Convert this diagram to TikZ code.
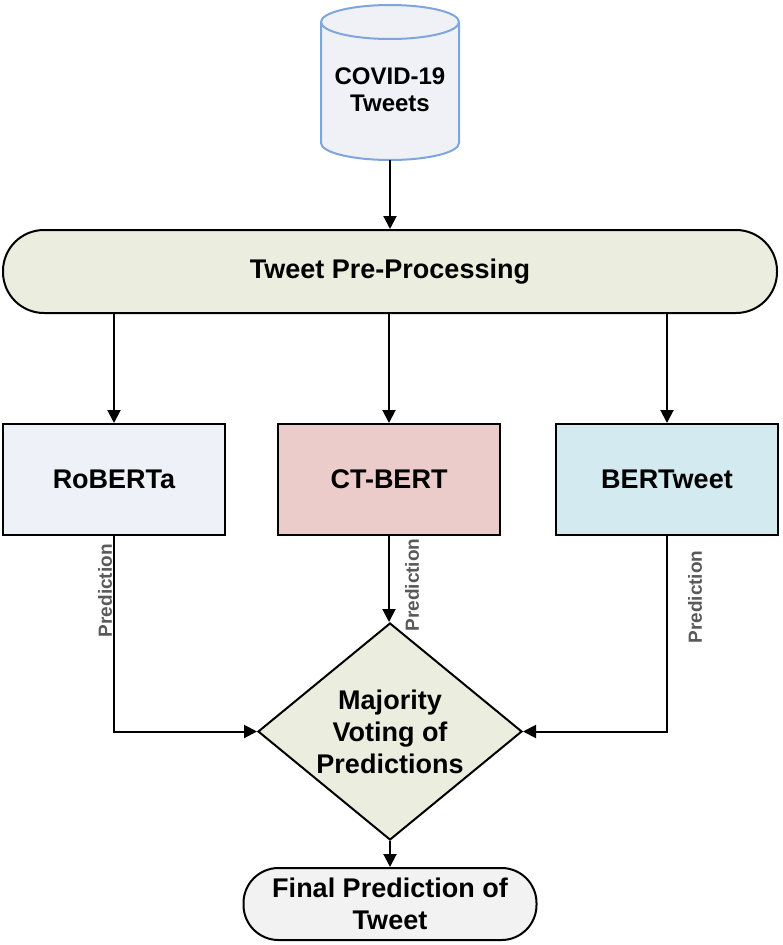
\documentclass[tikz,border=0pt]{standalone}
\usepackage{fontspec}
\setmainfont{Liberation Sans}
\usetikzlibrary{arrows.meta, shapes.geometric}

\definecolor{dbblue}{HTML}{7EA6DC}
\definecolor{dbfill}{HTML}{F0F0F7}
\definecolor{stepgreen}{HTML}{EBEEDE}
\definecolor{robfill}{HTML}{EEF1F7}
\definecolor{ctfill}{HTML}{ECCCCB}
\definecolor{btfill}{HTML}{D3EAF0}
\definecolor{finalfill}{HTML}{F2F2F2}
\definecolor{labelgray}{HTML}{595959}

\begin{document}
\begin{tikzpicture}[x=1pt, y=-1pt,
  bigtext/.style={font=\bfseries\fontsize{27}{32}\selectfont, align=center},
  model/.style={draw, line width=2pt, bigtext, minimum width=222pt, minimum height=111pt, inner sep=0pt},
  flow/.style={line width=2pt, -{Triangle[width=13pt,length=13pt]}},
  predlab/.style={font=\bfseries\fontsize{19}{22}\selectfont, text=labelgray, rotate=90, inner sep=1pt}]
\useasboundingbox (0,0) rectangle (782,945);
% Database of tweets
\filldraw[draw=dbblue, fill=dbfill, line width=2pt] (321,22) -- (321,143)
  arc[start angle=180, end angle=0, x radius=69, y radius=17] -- (459,22)
  arc[start angle=0, end angle=-180, x radius=69, y radius=17] -- cycle;
\draw[dbblue, line width=2pt] (321,22) arc[start angle=180, end angle=0, x radius=69, y radius=17];
\node[font=\bfseries\fontsize{24}{27}\selectfont, align=center] (tweets) at (390,90) {COVID-19\\Tweets};
\coordinate (dbbottom) at (390,160);
% Pre-processing step
\node[draw, line width=2pt, fill=stepgreen, rounded corners=41pt, minimum width=774pt, minimum height=83pt, bigtext] (prep) at (390,271.5) {Tweet Pre-Processing};
\draw[flow] (dbbottom) -- (prep.north);
% The three models
\node[model, fill=robfill] (rob) at (114,479.5) {RoBERTa};
\node[model, fill=ctfill] (ct) at (389,479.5) {CT-BERT};
\node[model, fill=btfill] (bt) at (667,479.5) {BERTweet};
\draw[flow] (prep.south -| rob.north) -- (rob.north);
\draw[flow] (prep.south -| ct.north) -- (ct.north);
\draw[flow] (prep.south -| bt.north) -- (bt.north);
% Voting diamond
\node[draw, diamond, aspect=1.2, line width=2pt, fill=stepgreen, minimum width=264pt, minimum height=217pt, inner sep=0pt, bigtext] (vote) at (390,731.5) {Majority\\Voting of\\Predictions};
% Predictions into the vote
\draw[flow] (rob.south) |- node[predlab, pos=0.14, anchor=south] {Prediction} (vote.west);
\draw[flow] (ct.south) -- node[predlab, pos=0.57, anchor=north, yshift=-14pt] {Prediction} (ct.south |- vote.north);
\draw[flow] (bt.south) |- node[predlab, pos=0.156, anchor=north, yshift=-19pt] {Prediction} (vote.east);
% Final output
\node[draw, line width=2pt, fill=finalfill, rounded corners=35pt, minimum width=293pt, minimum height=72pt, inner sep=0pt, bigtext] (final) at (390,904) {Final Prediction of\\Tweet};
\draw[flow] (vote.south) -- (final.north);
\end{tikzpicture}
\end{document}
